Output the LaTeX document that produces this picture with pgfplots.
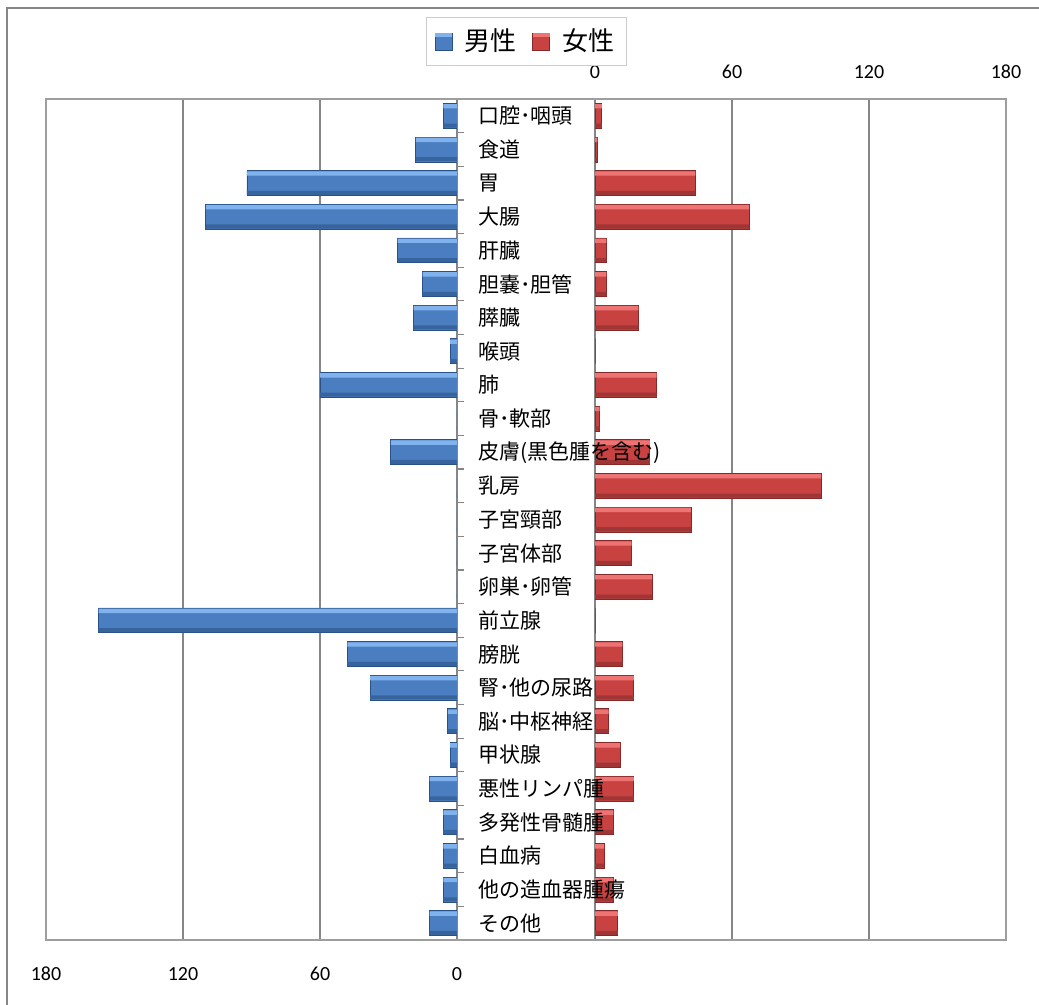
\documentclass[border=0pt]{standalone}
\usepackage{fontspec}
\setmainfont{Carlito}
\newfontfamily\jp{Noto Sans CJK JP}
\usepackage{pgfplots}
\usepackage{pgfplotstable}
\pgfplotsset{compat=1.18}
\definecolor{btop}{HTML}{80B3EE}
\definecolor{bmid}{HTML}{4A7EC0}
\definecolor{bbot}{HTML}{38649E}
\definecolor{bdraw}{HTML}{2A5088}
\definecolor{rtop}{HTML}{EE7474}
\definecolor{rmid}{HTML}{C94242}
\definecolor{rbot}{HTML}{A03535}
\definecolor{rdraw}{HTML}{862828}
\definecolor{gridc}{HTML}{868686}
\pgfplotstableread{
idx male
0 6
1 18
2 92
3 110
4 26
5 15
6 19
7 3
8 60
9 0
10 29
11 0
12 0
13 0
14 0
15 157
16 48
17 38
18 4
19 3
20 12
21 6
22 6
23 6
24 12
}\maletable
\pgfplotstableread{
idx female
0 3
1 1
2 44
3 67.5
4 5
5 5
6 19
7 0
8 27
9 2
10 24
11 99
12 42
13 16
14 25
15 0
16 12
17 17
18 6
19 11
20 17
21 8
22 4
23 8
24 10
}\femaletable
\pgfplotsset{
  common/.style={
    scale only axis, width=205.5pt, height=420.5pt,
    xmin=0, xmax=180, ymin=-0.5, ymax=24.5, y dir=reverse,
    axis line style={draw=none},
    /pgf/number format/assume math mode=true,
    tick label style={font=\fontsize{10}{12}\selectfont},
  },
  bars/.style={common, xtick={0,60,120,180}, xmajorgrids,
    grid style={gridc, line width=0.6pt}, xtick style={draw=none}},
  male/.style={xbar, bar width=0.74, fill=bmid, draw=bdraw, line width=0.4pt, forget plot},
  female/.style={xbar, bar width=0.74, fill=rmid, draw=rdraw, line width=0.4pt, forget plot},
  hi/.style={xbar, bar width=0.13, bar shift=-0.285, draw=none, forget plot},
  lo/.style={xbar, bar width=0.12, bar shift=0.29, draw=none, forget plot},
}
\begin{document}
\begin{tikzpicture}
\useasboundingbox (0,0) rectangle (519.5pt,502.5pt);
\draw[gridc, line width=1pt] (3.5pt,0) -- (3.5pt,498.5pt) -- (519.5pt,498.5pt);
% left axis (male)
\begin{axis}[bars, at={(23pt,32.5pt)}, anchor=south west, x dir=reverse,
  ytick={-0.5,0.5,...,24.5}, yticklabels={}, ytick pos=right,
  tick align=outside, major tick length=3.5pt, ytick style={gridc, line width=0.6pt},
  xticklabel style={anchor=center, yshift=-13.5pt}]
\addplot[male] table[x=male, y=idx] {\maletable};
\addplot[hi, fill=btop] table[x=male, y=idx] {\maletable};
\addplot[lo, fill=bbot] table[x=male, y=idx] {\maletable};
\end{axis}
% right axis (female)
\begin{axis}[bars, at={(297.5pt,32.5pt)}, anchor=south west,
  ytick=\empty, xticklabel pos=upper,
  xticklabel style={anchor=center, yshift=13.5pt},
  legend style={at={(axis description cs:-0.1667,1.0684)}, anchor=center,
    draw=gray!40, font=\jp\fontsize{13}{15}\selectfont,
    inner xsep=4pt, inner ysep=4pt,
    /tikz/every odd column/.append style={column sep=4pt},
    /tikz/every even column/.append style={column sep=6pt}},
  legend columns=2]
\addlegendimage{legend image code/.code={\draw[fill=bmid, draw=bdraw, line width=0.4pt] (-3pt,-4.25pt) rectangle (5.5pt,4.25pt); \fill[btop] (-2.6pt,2.6pt) rectangle (5.1pt,3.85pt);}}
\addlegendentry{男性}
\addlegendimage{legend image code/.code={\draw[fill=rmid, draw=rdraw, line width=0.4pt] (-3pt,-4.25pt) rectangle (5.5pt,4.25pt); \fill[rtop] (-2.6pt,2.6pt) rectangle (5.1pt,3.85pt);}}
\addlegendentry{女性}
\addplot[female] table[x=female, y=idx] {\femaletable};
\addplot[hi, fill=rtop] table[x=female, y=idx] {\femaletable};
\addplot[lo, fill=rbot] table[x=female, y=idx] {\femaletable};
\end{axis}
% category labels
\begin{axis}[common, at={(297.5pt,32.5pt)}, anchor=south west,
  xtick=\empty, ytick={0,...,24}, ytick style={draw=none},
  yticklabel style={anchor=west, xshift=-58.5pt, inner xsep=0pt, font=\jp\fontsize{10.5}{12}\selectfont},
  yticklabels={口腔･咽頭, 食道, 胃, 大腸, 肝臓, 胆嚢･胆管, 膵臓, 喉頭, 肺, 骨･軟部,
    皮膚(黒色腫を含む), 乳房, 子宮頸部, 子宮体部, 卵巣･卵管, 前立腺, 膀胱, 腎･他の尿路,
    脳･中枢神経, 甲状腺, 悪性リンパ腫, 多発性骨髄腫, 白血病, 他の造血器腫瘍, その他}]
\end{axis}
\draw[gridc!80, line width=0.75pt] (23pt,32.5pt) rectangle (503pt,453pt);
\end{tikzpicture}
\end{document}
